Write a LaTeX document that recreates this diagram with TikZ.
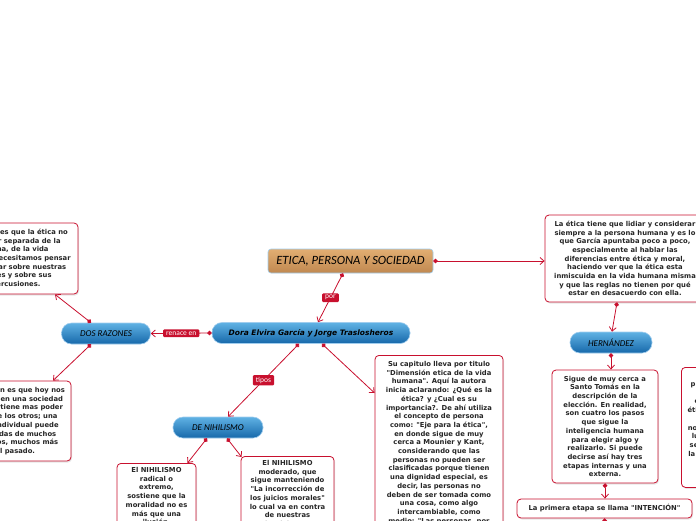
\documentclass[tikz,border=0pt]{standalone}
\usepackage{fontspec}
\newfontfamily\verd{DejaVu Sans}
\newfontfamily\cali{Carlito}
\usetikzlibrary{arrows.meta,calc,shadows}
\definecolor{mapred}{RGB}{200,16,46}
\definecolor{pillhi}{RGB}{96,178,228}
\definecolor{pilllo}{RGB}{22,104,170}
\definecolor{pillrim}{RGB}{160,205,238}
\definecolor{tanhi}{RGB}{226,174,114}
\definecolor{tanlo}{RGB}{192,136,80}

\begin{document}
\begin{tikzpicture}[x=1pt, y=-1pt,
	conn/.style={mapred, line width=0.8pt, {Circle[length=4.5pt]}-{Straight Barb[length=4pt,width=7pt,line width=0.8pt]}},
	lab/.style={fill=mapred, text=white, font=\cali\fontsize{7.5}{8}\selectfont, inner xsep=3pt, inner ysep=2pt, rounded corners=1pt},
	pill/.style={rounded corners=10pt, top color=pillhi, bottom color=pilllo, draw=pillrim, line width=0.6pt, minimum height=21pt, font=\cali\itshape\fontsize{9}{10}\selectfont},
	box/.style={draw=mapred, line width=0.8pt, fill=white, rounded corners=4pt, align=center, inner sep=4pt, text=black!85,
		font=\verd\bfseries\fontsize{6.8}{8.7}\selectfont, drop shadow={opacity=0.2, shadow xshift=1pt, shadow yshift=-1.5pt}}]
	\path[use as bounding box] (0,0) rectangle (696,520);
	\clip (0,0) rectangle (696,520);

	% main topic and authors
	\node[top color=tanhi, bottom color=tanlo, draw=pillrim, line width=0.6pt, rounded corners=3pt, minimum width=165pt, minimum height=24pt,
		font=\cali\itshape\fontsize{12.6}{13}\selectfont] (title) at (350.5,261) {ETICA, PERSONA Y SOCIEDAD};
	\node[pill, minimum width=198pt, font=\verd\bfseries\itshape\fontsize{7.5}{9}\selectfont] (dora) at (311,333) {Dora Elvira García y Jorge Traslosheros};
	\node[pill, minimum width=89pt] (dos) at (106,333.5) {DOS RAZONES};
	\node[pill, minimum width=90pt] (denih) at (218,427.5) {DE NIHILISMO};
	\node[pill, minimum width=82pt] (hern) at (611,342.5) {HERNÁNDEZ};

	% text boxes
	\node[box, minimum width=132pt, minimum height=71pt] (razon1) at (12,258.5) {La primera es que la ética no\\puede ser separada de la\\humana, de la vida\\cotidiana, necesitamos pensar\\y reflexionar sobre nuestras\\acciones y sobre sus\\repercusiones.};
	\node[box, minimum width=140pt, minimum height=80pt] (razon2) at (1,421) {La segunda razón es que hoy nos\\desenvolvemos en una sociedad\\en la que nadie tiene mas poder\\que el resto de los otros; una\\sola persona individual puede\\cambiar las vidas de muchos\\otros individuos, muchos más\\que en el pasado.};
	\node[box, anchor=north, minimum width=79pt] (radical) at (156.5,463) {El NIHILISMO\\radical o\\extremo,\\sostiene que la\\moralidad no es\\más que una\\ilusión.};
	\node[box, anchor=north, minimum width=93pt] (moderado) at (287.5,456) {El NIHILISMO\\moderado, que\\sigue manteniendo\\"La incorrección de\\los juicios morales"\\lo cual va en contra\\de nuestras\\intuiciones.};
	\node[box, anchor=north, minimum width=128pt, inner ysep=6pt] (capitulo) at (439,355) {Su capitulo lleva por titulo\\"Dimensión etica de la vida\\humana". Aquí la autora\\inicia aclarando: ¿Qué es la\\ética? y ¿Cual es su\\importancia?. De ahí utiliza\\el concepto de persona\\como: "Eje para la ética",\\en donde sigue de muy\\cerca a Mounier y Kant,\\considerando que las\\personas no pueden ser\\clasificadas porque tienen\\una dignidad especial, es\\decir, las personas no\\deben de ser tomada como\\una cosa, como algo\\intercambiable, como\\medio: "Las personas, por\\su dignidad, no tienen\\precio".};
	\node[box, minimum width=160pt, minimum height=87pt] (etica) at (625,258.5) {La ética tiene que lidiar y considerar\\siempre a la persona humana y es lo\\que García apuntaba poco a poco,\\especialmente al hablar las\\diferencias entre ética y moral,\\haciendo ver que la ética esta\\inmiscuida en la vida humana misma\\y que las reglas no tienen por qué\\estar en desacuerdo con ella.};
	\node[box, minimum width=106pt, minimum height=113pt] (tomas) at (605,426.5) {Sigue de muy cerca a\\Santo Tomás en la\\descripción de la\\elección. En realidad,\\son cuatro los pasos\\que sigue la\\inteligencia humana\\para elegir algo y\\realizarlo. Si puede\\decirse así hay tres\\etapas internas y una\\externa.};
	\node[box, minimum width=175pt, minimum height=19pt] (intencion) at (604.5,508.5) {La primera etapa se llama "INTENCIÓN"};
	\node[box, anchor=north west, minimum width=130pt, minimum height=120pt] (etapas) at (681,367) {Después viene la\\primera de las etapas que es\\la deliberación,\\en la que la inteligencia ve\\ética y moralmente los medios\\para el fin.\\no solo para ver si son buenos\\luego se elige uno de ellos y\\se pasa a la cuarta etapa que\\la realización externa del acto\\en la vida\\de la persona\\humana.};

	% connectors
	\draw[conn] (title.east) -- (title.east -| etica.west);
	\draw[conn] ($(title.south)+(-7.5,0)$) -- node[lab] (por) {por} ($(dora.north)+(7,0)$);
	\draw[conn] (dora.west) -- node[lab] (renace) {renace en} (dos.east);
	\draw[conn] ($(dos.north)+(-15,0)$) -- ($(razon1.south)+(43,0)$);
	\draw[conn] ($(dos.south)+(-15,0)$) -- ($(razon2.north)+(52,0)$);
	\draw[conn] ($(dora.south)+(-12,0)$) -- node[lab] (tipos) {tipos} ($(denih.north)+(10,0)$);
	\draw[conn] ($(dora.south)+(11,0)$) -- ($(capitulo.north west)+(0,38)$);
	\draw[conn] ($(denih.south)+(-11,0)$) -- ($(radical.north)+(31,0)$);
	\draw[conn] ($(denih.south)+(9,0)$) -- ($(moderado.north west)+(1,1)$);
	\draw[conn] ($(etica.south)+(-8,0)$) -- ($(hern.north)+(1,0)$);
	\draw[conn] (hern.south) -- (hern.south |- tomas.north);
	\draw[conn] (tomas.south) -- (tomas.south |- intencion.north);
	\coordinate (sigue) at (606,545);
	\draw[conn] (intencion.south) -- (sigue);
\end{tikzpicture}
\end{document}
